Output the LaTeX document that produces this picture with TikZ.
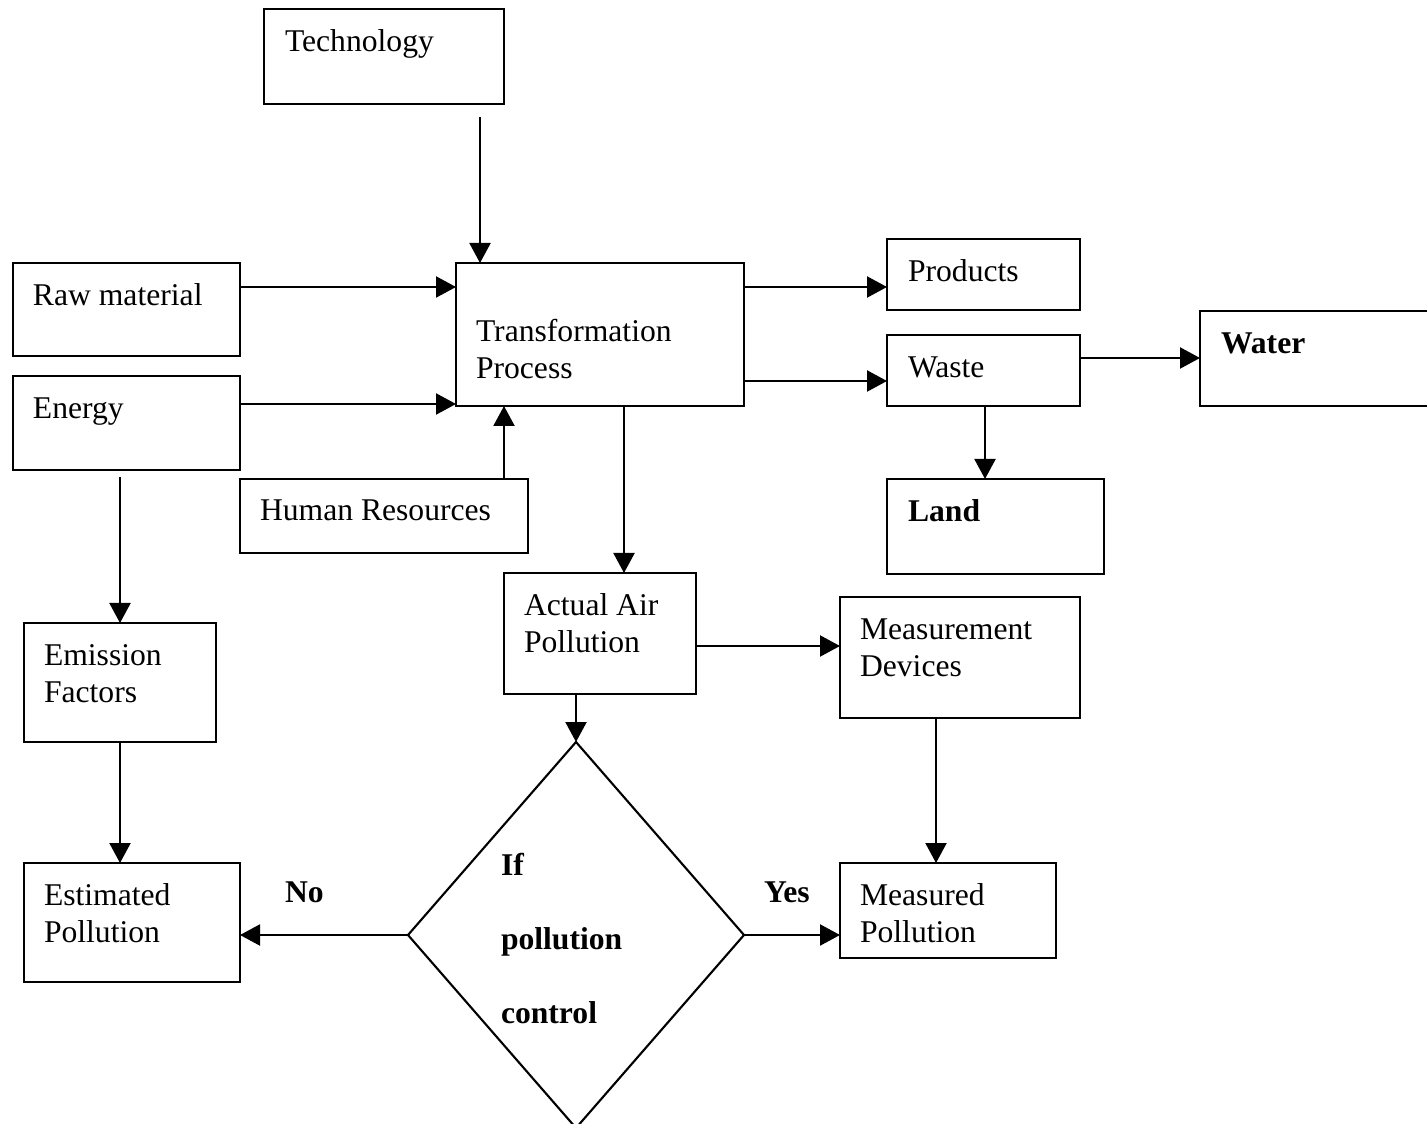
\documentclass[tikz,border=0pt]{standalone}
\usepackage{fontspec}
\setmainfont{Liberation Serif}
\usetikzlibrary{arrows.meta,shapes.geometric,calc}

% multi-line label whose baseline is that of its first line
\newcommand\stack[1]{\begin{tabular}[t]{@{}l@{}}#1\end{tabular}}

\tikzset{
  box/.style={draw, line width=0.6pt, rectangle, inner sep=0pt, outer sep=0pt, anchor=north west},
  lbl/.style={inner sep=0pt, outer sep=0pt, anchor=base west, font=\fontsize{9}{10.5}\selectfont, yshift=-0.025cm},
  blbl/.style={lbl, font=\fontsize{9}{10.5}\selectfont\bfseries},
  arr/.style={line width=0.6pt, -{Triangle[length=2mm,width=2.1mm]}},
  decision/.style={draw, diamond, line width=0.6pt, inner sep=0pt, outer sep=0pt},
}

\begin{document}
\begin{tikzpicture}
\useasboundingbox (0,0) rectangle (14.27,-11.24);
\clip (0,0) rectangle (14.27,-11.24);

% boxes
\node[box, minimum width=2.40cm, minimum height=0.95cm] (tech)   at (2.64,-0.09) {};
\node[box, minimum width=2.27cm, minimum height=0.93cm] (raw)    at (0.13,-2.63) {};
\node[box, minimum width=2.27cm, minimum height=0.94cm] (energy) at (0.13,-3.76) {};
\node[box, minimum width=2.88cm, minimum height=1.43cm] (tp)     at (4.56,-2.63) {};
\node[box, minimum width=2.88cm, minimum height=0.74cm] (hr)     at (2.40,-4.79) {};
\node[box, minimum width=1.93cm, minimum height=0.71cm] (prod)   at (8.87,-2.39) {};
\node[box, minimum width=1.93cm, minimum height=0.71cm] (waste)  at (8.87,-3.35) {};
\node[box, minimum width=3.00cm, minimum height=0.95cm] (water)  at (12.00,-3.11) {};
\node[box, minimum width=2.17cm, minimum height=0.95cm] (land)   at (8.87,-4.79) {};
\node[box, minimum width=1.92cm, minimum height=1.21cm] (air)    at (5.04,-5.73) {};
\node[box, minimum width=2.40cm, minimum height=1.21cm] (meas)   at (8.40,-5.97) {};
\node[box, minimum width=1.92cm, minimum height=1.19cm] (emis)   at (0.24,-6.23) {};
\node[box, minimum width=2.16cm, minimum height=1.19cm] (est)    at (0.24,-8.63) {};
\node[box, minimum width=2.16cm, minimum height=0.95cm] (mp)     at (8.40,-8.63) {};
\node[decision, minimum width=3.36cm, minimum height=3.86cm] (dia) at (5.76,-9.35) {};

% texts
\node[lbl]  (tTech)   at (2.85,-0.49) {Technology};
\node[lbl]  (tRaw)    at (0.33,-3.03) {Raw material};
\node[lbl]  (tEnergy) at (0.33,-4.16) {Energy};
\node[lbl]  (tTp)     at (4.76,-3.39) {\stack{Transformation\\Process}};
\node[lbl]  (tHr)     at (2.60,-5.18) {Human Resources};
\node[lbl]  (tProd)   at (9.08,-2.79) {Products};
\node[lbl]  (tWaste)  at (9.08,-3.75) {Waste};
\node[blbl] (tWater)  at (12.21,-3.51) {Water};
\node[blbl] (tLand)   at (9.08,-5.19) {Land};
\node[lbl]  (tAir)    at (5.24,-6.13) {\stack{Actual Air\\Pollution}};
\node[lbl]  (tMeas)   at (8.60,-6.37) {\stack{Measurement\\Devices}};
\node[lbl]  (tEmis)   at (0.44,-6.63) {\stack{Emission\\Factors}};
\node[lbl]  (tEst)    at (0.44,-9.03) {\stack{Estimated\\Pollution}};
\node[lbl]  (tMp)     at (8.60,-9.03) {\stack{Measured\\Pollution}};
\node[blbl] (tDia)    at (5.01,-8.73) {\stack{If\\[10.5pt]pollution\\[10.5pt]control}};
\node[blbl] (tNo)     at (2.85,-9.00) {No};
\node[blbl] (tYes)    at (7.64,-9.00) {Yes};

% connector guide lines
\coordinate (x480) at (4.80,0);
\coordinate (x504) at (5.04,0);
\coordinate (x624) at (6.24,0);
\coordinate (x936) at (9.36,0);
\coordinate (x985) at (9.85,0);
\coordinate (y287) at (0,-2.87);
\coordinate (y358) at (0,-3.58);
\coordinate (y381) at (0,-3.81);
\coordinate (y404) at (0,-4.04);
\coordinate (y646) at (0,-6.46);

% connectors
\draw[arr] ($(tech.south -| x480)+(0,-0.13)$) -- (tp.north -| x480);
\draw[arr] (raw.east |- y287) -- (tp.west |- y287);
\draw[arr] (energy.east |- y404) -- (tp.west |- y404);
\draw[arr] (hr.north -| x504) -- (tp.south -| x504);
\draw[arr] (tp.east |- y287) -- (prod.west |- y287);
\draw[arr] (tp.east |- y381) -- (waste.west |- y381);
\draw[arr] (waste.east |- y358) -- (water.west |- y358);
\draw[arr] (waste.south -| x985) -- (land.north -| x985);
\draw[arr] (tp.south -| x624) -- (air.north -| x624);
\draw[arr] (air.east |- y646) -- (meas.west |- y646);
\draw[arr] (air.south -| dia.north) -- (dia.north);
\draw[arr] ($(energy.south -| emis.north)+(0,-0.07)$) -- (emis.north);
\draw[arr] (emis.south) -- (est.north -| emis.south);
\draw[arr] (meas.south -| x936) -- (mp.north -| x936);
\draw[arr] (dia.west) -- (est.east |- dia.west);
\draw[arr] (dia.east) -- (mp.west |- dia.east);
\end{tikzpicture}
\end{document}
